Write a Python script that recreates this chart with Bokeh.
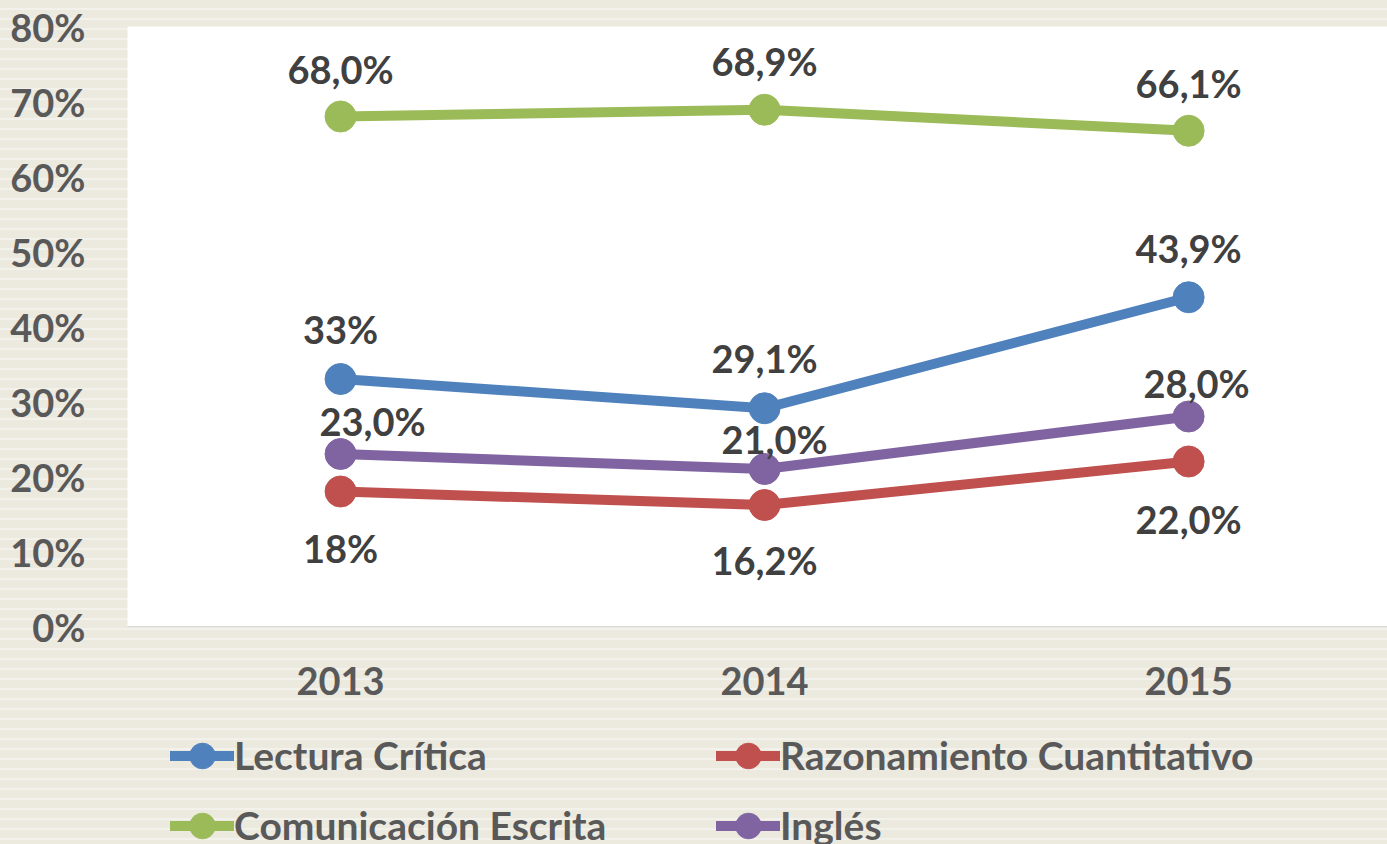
from bokeh.plotting import figure
from bokeh.layouts import column
from bokeh.models import (Range1d, FixedTicker, NumeralTickFormatter, ColumnDataSource,
                          Legend, LegendItem)
from bokeh.core.properties import value
from bokeh.embed import file_html
from bokeh.resources import INLINE

# ---------------- data ----------------
years = ["2013", "2014", "2015"]
series_names = ["Lectura Crítica", "Razonamiento Cuantitativo", "Comunicación Escrita", "Inglés"]
lectura = [0.33, 0.291, 0.439]
razonamiento = [0.18, 0.162, 0.22]
comunicacion = [0.68, 0.689, 0.661]
ingles = [0.23, 0.21, 0.28]
lectura_labels = ["33%", "29,1%", "43,9%"]
razonamiento_labels = ["18%", "16,2%", "22,0%"]
comunicacion_labels = ["68,0%", "68,9%", "66,1%"]
ingles_labels = ["23,0%", "21,0%", "28,0%"]
y_ticks = [0.0, 0.1, 0.2, 0.3, 0.4, 0.5, 0.6, 0.7, 0.8]

# ---------------- style ----------------
FONT = "Lato"
FS = "38px"
BG = "#ECE9DF"
BG_STRIPES = ("repeating-linear-gradient(to bottom, #ECE9DF 0px, #ECE9DF 8px, "
              "#F3F1EB 8px, #F3F1EB 10px)")
colors = ["#4F81BD", "#C0504D", "#9BBB59", "#8064A2"]
# label placement (screen px offsets from each point)
label_dx = [[0, 0, 0], [0, 0, 0], [0, 0, 0], [32, 10, 8]]
label_dy = [[-50, -50, -49], [56, 55, 57], [-48, -49, -48], [-33, -30, -34]]

W = 1387
H_MAIN = 720
H_LEG = 124
LEFT = 127

p = figure(width=W, height=H_MAIN, output_backend="svg", toolbar_location=None,
           x_range=Range1d(-0.5024, 2.469), y_range=Range1d(0, 0.8),
           min_border_left=LEFT, min_border_right=0, min_border_top=26,
           min_border_bottom=H_MAIN - 626)
p.background_fill_color = "white"
p.border_fill_alpha = 0
p.outline_line_color = None
p.grid.visible = False

yax = p.yaxis[0]
yax.ticker = FixedTicker(ticks=y_ticks)
yax.formatter = NumeralTickFormatter(format="0%")
yax.axis_line_color = None
yax.major_tick_line_color = None
yax.minor_tick_line_color = None
yax.major_tick_out = 0
yax.major_label_standoff = 42
yax.major_label_text_font = FONT
yax.major_label_text_font_style = "bold"
yax.major_label_text_font_size = FS
yax.major_label_text_color = "#595959"

xax = p.xaxis[0]
xax.ticker = FixedTicker(ticks=list(range(len(years))))
xax.major_label_overrides = {i: y for i, y in enumerate(years)}
xax.axis_line_color = "#D9D9D9"
xax.axis_line_width = 1
xax.major_tick_line_color = None
xax.minor_tick_line_color = None
xax.major_tick_out = 0
xax.major_label_standoff = 40
xax.major_label_text_font = FONT
xax.major_label_text_font_style = "bold"
xax.major_label_text_font_size = FS
xax.major_label_text_color = "#595959"

all_vals = [lectura, razonamiento, comunicacion, ingles]
all_labels = [lectura_labels, razonamiento_labels, comunicacion_labels, ingles_labels]
sources = []
for i, (vals, labs) in enumerate(zip(all_vals, all_labels)):
    src = ColumnDataSource(dict(x=list(range(len(years))), y=vals, lab=labs,
                                dx=label_dx[i], dy=label_dy[i]))
    sources.append(src)
    p.line("x", "y", source=src, line_color=colors[i], line_width=10, line_cap="round")
    p.scatter("x", "y", source=src, size=31, fill_color=colors[i], line_color=colors[i])

for src in sources:
    p.text("x", "y", text="lab", source=src, x_offset="dx", y_offset="dy",
           text_font=value(FONT), text_font_style="bold", text_font_size=FS,
           text_color="#404040", text_align="center", text_baseline="middle")

# ---------------- legend strip ----------------
pl = figure(width=W, height=H_LEG, output_backend="svg", toolbar_location=None,
            x_range=Range1d(0, 1), y_range=Range1d(0, 1),
            x_axis_location=None, y_axis_location=None,
            min_border_left=LEFT, min_border_right=0, min_border_top=0, min_border_bottom=0)
pl.background_fill_alpha = 0
pl.border_fill_alpha = 0
pl.outline_line_color = None
pl.grid.visible = False

# legend key glyphs (kept off-screen; only their swatches appear in the legend)
leg_renderers = []
for i in range(4):
    key_src = ColumnDataSource(dict(x=[-5], y=[-5]))
    lr = pl.line("x", "y", source=key_src, line_color=colors[i], line_width=10, line_cap="round")
    sr = pl.scatter("x", "y", source=key_src, size=31, fill_color=colors[i], line_color=colors[i])
    leg_renderers.append([lr, sr])

def make_legend(idxs, x):
    lg = Legend(items=[LegendItem(label=series_names[k], renderers=leg_renderers[k]) for k in idxs],
                location=(x, -13.5), orientation="vertical")
    lg.padding = 0
    lg.margin = 0
    lg.border_line_color = None
    lg.background_fill_alpha = 0
    lg.label_standoff = 0
    lg.glyph_width = 64
    lg.glyph_height = 65
    lg.label_height = 65
    lg.spacing = 5
    lg.label_text_font = FONT
    lg.label_text_font_style = "bold"
    lg.label_text_font_size = "39px"
    lg.label_text_color = "#595959"
    lg.label_text_baseline = "middle"
    return lg

pl.add_layout(make_legend([0, 2], 170 - LEFT))
pl.add_layout(make_legend([1, 3], 716 - LEFT))

layout = column(p, pl, spacing=0, styles={"background": BG_STRIPES})
open("out.html", "w").write(file_html(layout, INLINE))
